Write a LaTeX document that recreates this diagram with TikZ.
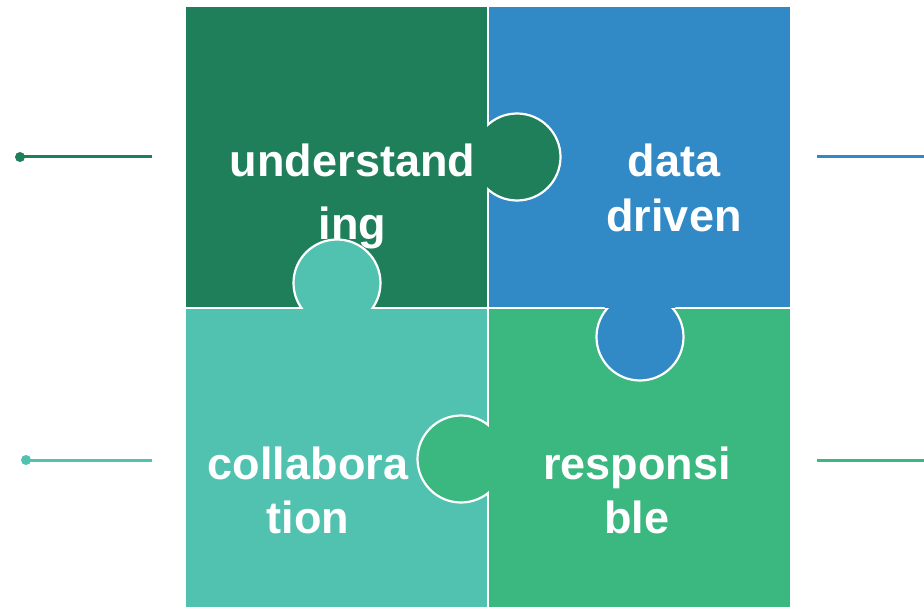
\documentclass[tikz,border=0pt]{standalone}
\usepackage{fontspec}
\setmainfont{Liberation Sans}
\definecolor{pdark}{RGB}{31,127,90}
\definecolor{pblue}{RGB}{49,137,198}
\definecolor{pteal}{RGB}{82,194,176}
\definecolor{pgreen}{RGB}{59,183,128}
\tikzset{
  word/.style={text=white, font=\fontsize{45}{54}\selectfont\bfseries, anchor=base, inner sep=0pt},
  lead/.style={line width=3pt},
  leaddot/.style={circle, inner sep=0pt, minimum size=10pt},
  seam/.style={white, line width=2.2pt},
}
\begin{document}
\begin{tikzpicture}[x=1pt, y=-1pt]
\useasboundingbox (0,0) rectangle (924,607);

% four square pieces
\fill[pdark]  (186,7)   rectangle (488,308);
\fill[pblue]  (488,7)   rectangle (790,308);
\fill[pteal]  (186,308) rectangle (488,607);
\fill[pgreen] (488,308) rectangle (790,607);

% seams between the pieces
\draw[seam] (488,7) -- (488,607);
\draw[seam] (186,308) -- (790,308);

% tabs: full circle with a white rim, then the part inside its own piece refilled
\draw[seam, fill=pdark]  (517,157) circle (43.5);
\begin{scope}
  \clip (186,7) rectangle (487,307);
  \fill[pdark] (517,157) circle (46);
\end{scope}

\draw[seam, fill=pteal]  (337,283) circle (43.5);
\begin{scope}
  \clip (186,309) rectangle (487,607);
  \fill[pteal] (337,283) circle (46);
\end{scope}

\draw[seam, fill=pblue]  (640,337) circle (43.5);
\begin{scope}
  \clip (489,7) rectangle (790,307);
  \fill[pblue] (640,337) circle (46);
\end{scope}

\draw[seam, fill=pgreen] (461,459) circle (43.5);
\begin{scope}
  \clip (489,309) rectangle (790,607);
  \fill[pgreen] (461,459) circle (46);
\end{scope}

% labels
\node[word] (t1a) at (352.5,177) {understand};
\node[word] (t1b) at (352.5,239) {ing};
\node[word] (t2a) at (674,177) {data};
\node[word] (t2b) at (674,231) {driven};
\node[word] (t3a) at (308,479) {collabora};
\node[word] (t3b) at (308,533) {tion};
\node[word] (t4a) at (637,479) {responsi};
\node[word] (t4b) at (637,533) {ble};

% leader lines
\node[leaddot, fill=pdark] (d1) at (20,157) {};
\coordinate (e1) at (152,157);
\draw[lead, pdark] (d1.center) -- (e1);

\node[leaddot, fill=pteal] (d3) at (26,460) {};
\coordinate (e3) at (152,460);
\draw[lead, pteal] (d3.center) -- (e3);

\coordinate (s2) at (817,157);
\coordinate (e2) at (924,157);
\draw[lead, pblue] (s2) -- (e2);

\coordinate (s4) at (817,460);
\coordinate (e4) at (924,460);
\draw[lead, pgreen] (s4) -- (e4);
\end{tikzpicture}
\end{document}
